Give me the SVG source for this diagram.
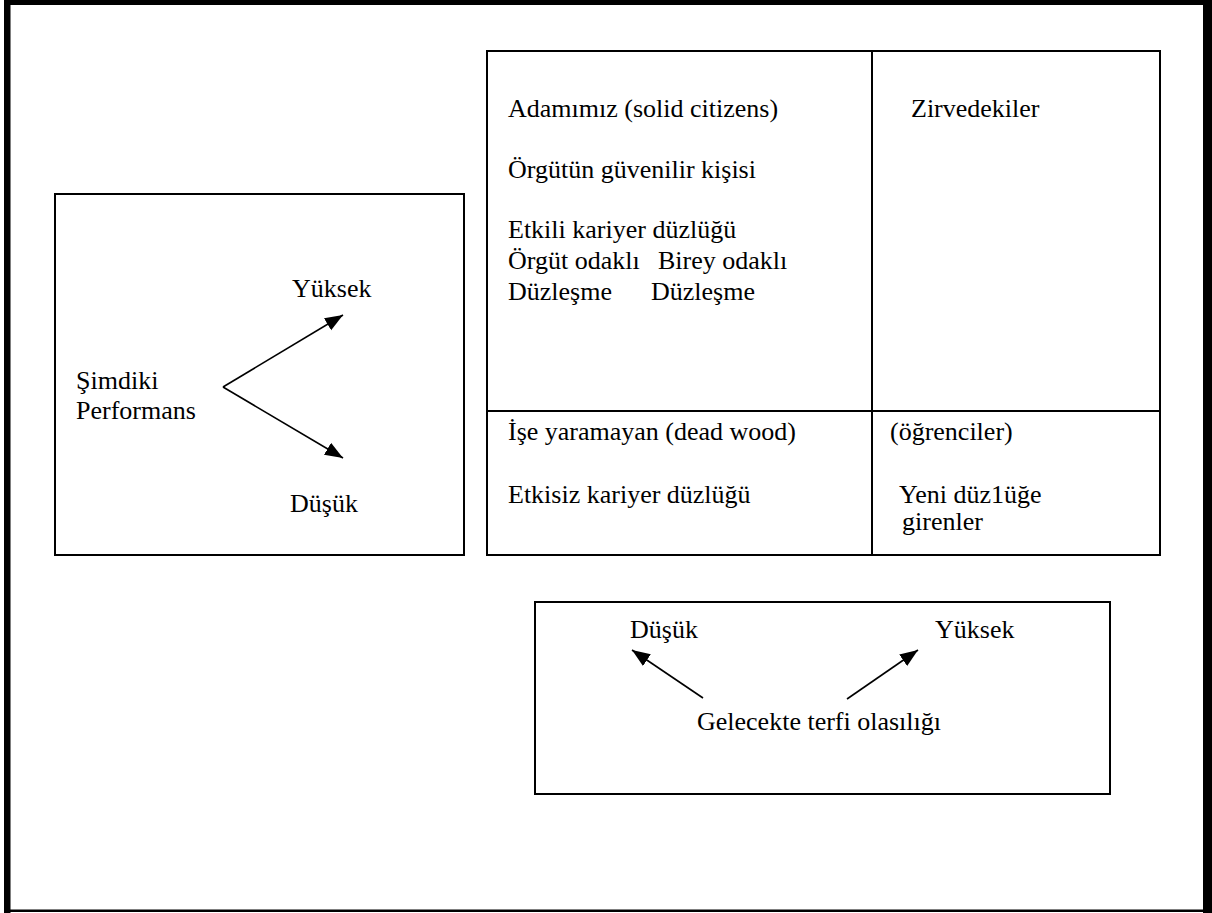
<svg xmlns="http://www.w3.org/2000/svg" width="1212" height="913" viewBox="0 0 1212 913">
<style>
text{font-family:"Liberation Serif","Times New Roman",serif;font-size:26px;fill:#000}
.box{fill:none;stroke:#000;stroke-width:2}
.ln{fill:none;stroke:#000;stroke-width:2}
.arr{fill:none;stroke:#000;stroke-width:1.6;marker-end:url(#ah)}
</style>
<defs>
<marker id="ah" markerUnits="userSpaceOnUse" markerWidth="20" markerHeight="16" refX="18" refY="7" orient="auto">
<path d="M0,0 L18,7 L0,14 Z" fill="#000"/>
</marker>
</defs>
<rect width="1212" height="913" fill="#fff"/>
<g id="page-border">
<rect x="4" y="0" width="1208" height="5" fill="#000"/>
<rect x="4" y="0" width="6.5" height="913" fill="#000"/>
<rect x="1203" y="0" width="9" height="913" fill="#000"/>
<rect x="4" y="909.5" width="1208" height="2.5" fill="#000"/>
</g>
<g id="performance-box">
<rect class="box" x="55" y="194" width="409" height="361"/>
<text x="292" y="297">Yüksek</text>
<text x="76" y="389">Şimdiki</text>
<text x="76" y="419">Performans</text>
<text x="290" y="512">Düşük</text>
</g>
<g id="grid">
<rect class="box" x="487" y="51" width="673" height="504"/>
<line class="ln" x1="872" y1="51" x2="872" y2="555"/>
<line class="ln" x1="487" y1="411" x2="1160" y2="411"/>
</g>
<g id="cell-solid-citizens">
<text x="508" y="117">Adamımız (solid citizens)</text>
<text x="508" y="178">Örgütün güvenilir kişisi</text>
<text x="508" y="238">Etkili kariyer düzlüğü</text>
<text x="508" y="269">Örgüt odaklı</text>
<text x="658" y="269">Birey odaklı</text>
<text x="508" y="300">Düzleşme</text>
<text x="651" y="300">Düzleşme</text>
</g>
<g id="cell-stars">
<text x="911" y="117">Zirvedekiler</text>
</g>
<g id="cell-dead-wood">
<text x="508" y="440">İşe yaramayan (dead wood)</text>
<text x="508" y="503">Etkisiz kariyer düzlüğü</text>
</g>
<g id="cell-learners">
<text x="890" y="440">(öğrenciler)</text>
<text x="899" y="503">Yeni düz1üğe</text>
<text x="902" y="530">girenler</text>
</g>
<g id="promotion-box">
<rect class="box" x="535" y="602" width="575" height="192"/>
<text x="630" y="638">Düşük</text>
<text x="935" y="638">Yüksek</text>
<text x="697" y="730">Gelecekte terfi olasılığı</text>
</g>
<g id="connectors">
<line class="arr" x1="223" y1="387" x2="343" y2="315"/>
<line class="arr" x1="223" y1="387" x2="343" y2="458"/>
<line class="arr" x1="703" y1="698" x2="632" y2="650"/>
<line class="arr" x1="847" y1="699" x2="918" y2="650"/>
</g>
</svg>
